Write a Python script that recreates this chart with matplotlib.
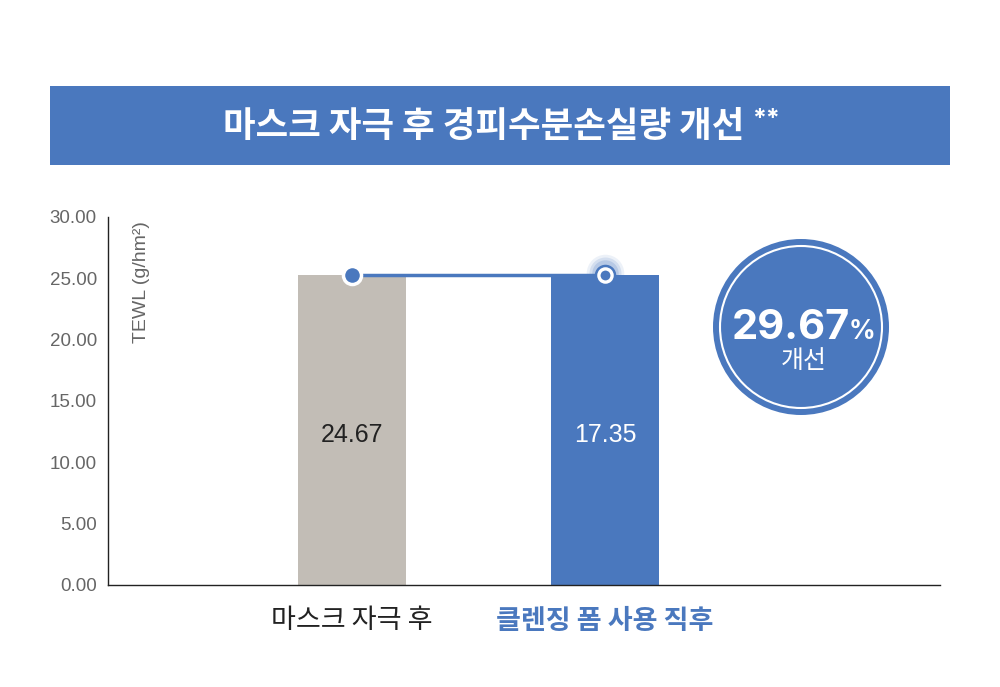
import matplotlib
matplotlib.use("Agg")
import matplotlib.pyplot as plt
from matplotlib.patches import Rectangle, Circle

plt.rcParams['font.family'] = ['Liberation Sans', 'Noto Sans CJK KR', 'DejaVu Sans']

categories = ["마스크 자극 후", "클렌징 폼 사용 직후"]
bar_heights = [25.3, 25.3]
value_labels = ["24.67", "17.35"]
yticks = [0, 5, 10, 15, 20, 25, 30]
title = "마스크 자극 후 경피수분손실량 개선"
improvement = "29.67"

BLUE = "#4a78be"
GREY = "#c2bdb6"

fig = plt.figure(figsize=(10, 6.87), dpi=100)

# overlay for banner & circle (pixel coords)
ov = fig.add_axes([0, 0, 1, 1], zorder=0)
ov.set_xlim(0, 1000)
ov.set_ylim(687, 0)
ov.axis("off")
ov.add_patch(Rectangle((50, 86), 900, 79, color=BLUE, lw=0))
ov.text(484, 127, title, color="white", fontsize=25.5, fontweight="bold",
        ha="center", va="center", family=['Noto Sans CJK KR'])
ov.text(752, 120, "**", color="white", fontsize=18, fontweight="bold",
        ha="left", va="center", family=['Inter'])
ov.add_patch(Circle((801, 327), 88, color=BLUE, lw=0))
ov.add_patch(Circle((801, 327), 81, fill=False, ec="white", lw=1.5))
ov.text(791, 339, improvement, color="white", fontsize=30, fontweight="bold",
        ha="center", va="baseline", family=['Inter'])
ov.text(862, 339, "%", color="white", fontsize=19, fontweight="bold",
        ha="center", va="baseline", family=['Inter'])
ov.text(804, 361, "개선", color="white", fontsize=18, ha="center", va="center",
        family=['Noto Sans CJK KR'])

ax = fig.add_axes([0.108, 0.1485, 0.832, 0.5357], zorder=1)
ax.patch.set_alpha(0)
x = list(range(len(categories)))
ax.bar(x, bar_heights, width=0.427, color=[GREY, BLUE], zorder=2)
ax.plot(x, bar_heights, color=BLUE, lw=2.5, zorder=3)
# glow (slightly above) around second point
for ms, a in [(27, 0.10), (23, 0.15), (19, 0.2)]:
    ax.plot([x[1]], [bar_heights[1] + 0.15], 'o', ms=ms, color=BLUE, alpha=a, mew=0, zorder=3)
ax.plot([x[0]], [bar_heights[0]], 'o', ms=13, mfc=BLUE, mec="white", mew=2.5, zorder=4)
ax.plot([x[1]], [bar_heights[1]], 'o', ms=14.5, mfc=BLUE, mec=BLUE, mew=1, zorder=4)
ax.plot([x[1]], [bar_heights[1]], 'o', ms=9.5, mfc=BLUE, mec="white", mew=2.4, zorder=5)

for xi, lab, c in zip(x, value_labels, ["#222222", "white"]):
    ax.text(xi, 12.25, lab, color=c, fontsize=18, ha="center", va="center", zorder=5)

ax.set_xlim(-0.964, 2.324)
ax.set_ylim(0, 30)
ax.set_yticks(yticks)
ax.set_yticklabels([f"{v:.2f}" for v in yticks], color="#666666", fontsize=13.5)
ax.tick_params(axis="y", length=0, pad=8)
ax.set_xticks(x)
ax.set_xticklabels(categories, fontsize=19.5, family=['Noto Sans CJK KR'])
ax.tick_params(axis="x", length=0, pad=16)
lbls = ax.get_xticklabels()
lbls[0].set_color("#222222")
lbls[1].set_color(BLUE)
lbls[1].set_fontweight("bold")
for s in ["top", "right"]:
    ax.spines[s].set_visible(False)
for s in ["left", "bottom"]:
    ax.spines[s].set_color("#222222")
    ax.spines[s].set_linewidth(1)

ax.text(-0.83, 29.7, "TEWL (g/hm²)", rotation=90, color="#666666",
        fontsize=14, ha="center", va="top")

fig.savefig("out.png", dpi=100)
